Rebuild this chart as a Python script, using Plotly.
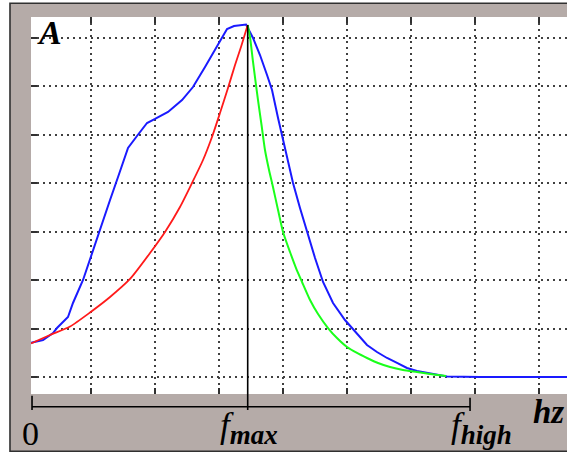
import plotly.graph_objects as go

# ---------------- data (grid units) ----------------
blue_x = [0.067, 0.255, 0.411, 0.473, 0.645, 0.723, 0.880, 1.020, 1.145, 1.302,
          1.427, 1.583, 1.723, 1.880, 2.005, 2.208, 2.427, 2.598, 2.786, 2.911,
          3.052, 3.130, 3.239, 3.427, 3.536, 3.645, 3.755, 3.833, 3.927, 3.989,
          4.067, 4.161, 4.270, 4.380, 4.505, 4.630, 4.786, 4.973, 5.145, 5.317,
          5.473, 5.630, 5.786, 5.942, 6.098, 6.255, 6.411, 6.567, 7.083, 8.450]
blue_y = [1.707, 1.763, 1.907, 2.010, 2.237, 2.526, 3.000, 3.557, 4.031, 4.649,
          5.124, 5.722, 5.969, 6.237, 6.320, 6.464, 6.711, 6.979, 7.392, 7.680,
          8.010, 8.175, 8.237, 8.268, 7.990, 7.639, 7.227, 6.918, 6.340, 5.990,
          5.577, 5.000, 4.485, 3.990, 3.454, 2.959, 2.526, 2.175, 1.907, 1.660,
          1.515, 1.392, 1.289, 1.186, 1.124, 1.082, 1.041, 1.010, 1.000, 1.000]

red_x = [0.067, 0.364, 0.677, 0.989, 1.302, 1.614, 1.927, 2.161, 2.395, 2.583,
         2.755, 2.895, 3.020, 3.145, 3.255, 3.348, 3.453]
red_y = [1.691, 1.866, 2.041, 2.330, 2.649, 3.021, 3.557, 3.990, 4.505, 5.000,
         5.474, 5.948, 6.443, 6.959, 7.433, 7.804, 8.258]

green_x = [3.453, 3.489, 3.536, 3.614, 3.669, 3.723, 3.786, 3.848, 3.927, 4.005,
           4.114, 4.208, 4.302, 4.427, 4.552, 4.708, 4.848, 5.005, 5.161, 5.317,
           5.489, 5.677, 5.880, 6.098, 6.302, 6.552]
green_y = [8.258, 8.010, 7.495, 6.711, 6.196, 5.680, 5.268, 4.918, 4.443, 3.990,
           3.577, 3.247, 2.959, 2.588, 2.299, 2.010, 1.804, 1.619, 1.495, 1.392,
           1.289, 1.206, 1.144, 1.103, 1.062, 1.021]

F_ZERO = 0.083
F_MAX = 3.453
F_HIGH = 6.927
grid_x = [1, 2, 3, 4, 5, 6, 7, 8]
grid_y = [1, 2, 3, 4, 5, 6, 7, 8]
X_RANGE = [0.067, 8.442]
Y_RANGE = [0.6495, 8.4227]

# ---------------- styling ----------------
GRAY = "#b5aba8"
DARK = "#303030"
SERIF = "Liberation Serif"

fig = go.Figure()
fig.add_trace(go.Scatter(x=blue_x, y=blue_y, mode="lines",
                         line=dict(color="#1a1aff", width=2), showlegend=False))
fig.add_trace(go.Scatter(x=red_x, y=red_y, mode="lines",
                         line=dict(color="#ff1a1a", width=1.8, shape="spline", smoothing=0.6),
                         showlegend=False))
fig.add_trace(go.Scatter(x=green_x, y=green_y, mode="lines",
                         line=dict(color="#1aff1a", width=2, shape="spline", smoothing=0.6),
                         showlegend=False))

peak_paper = (max(red_y) - Y_RANGE[0]) / (Y_RANGE[1] - Y_RANGE[0])

shapes = [
    # outer gray frame
    dict(type="rect", xref="paper", yref="paper", x0=-0.0392, x1=1.03, y0=-0.152, y1=1.0363,
         fillcolor=GRAY, line=dict(color=DARK, width=1.6), layer="below"),
    # white plotting area
    dict(type="rect", xref="paper", yref="paper", x0=0, x1=1, y0=0, y1=1,
         fillcolor="white", line=dict(width=0), layer="below"),
    # f_max vertical line
    dict(type="line", xref="x", yref="paper", x0=F_MAX, x1=F_MAX, y0=-0.0424, y1=peak_paper,
         line=dict(color="black", width=1.6), layer="above"),
    # frequency axis line
    dict(type="line", xref="x", yref="paper", x0=F_ZERO, x1=F_HIGH, y0=-0.0337, y1=-0.0337,
         line=dict(color="black", width=1.6), layer="above"),
    dict(type="line", xref="x", yref="paper", x0=F_ZERO, x1=F_ZERO, y0=-0.0045, y1=-0.0424,
         line=dict(color="black", width=1.6), layer="above"),
    dict(type="line", xref="x", yref="paper", x0=F_HIGH, x1=F_HIGH, y0=-0.0098, y1=-0.045,
         line=dict(color="black", width=1.6), layer="above"),
]

annotations = [
    dict(text="<b><i>A</i></b>", xref="paper", yref="paper", x=0.007, y=0.958,
         xanchor="left", yanchor="middle", showarrow=False,
         font=dict(family=SERIF, size=34, color="black")),
    dict(text="0", xref="x", yref="paper", x=F_ZERO, y=-0.104, xshift=-1.5,
         xanchor="center", yanchor="middle", showarrow=False,
         font=dict(family=SERIF, size=34, color="black")),
    dict(text="<i>f</i><sub><b><i><span style='font-size:27px'>max</span></i></b></sub>",
         xref="x", yref="paper", x=F_MAX, y=-0.089, xshift=1,
         xanchor="center", yanchor="middle", showarrow=False,
         font=dict(family=SERIF, size=35, color="black")),
    dict(text="<i>f</i><sub><b><i><span style='font-size:27px'>high</span></i></b></sub>",
         xref="x", yref="paper", x=F_HIGH, y=-0.089, xshift=11,
         xanchor="center", yanchor="middle", showarrow=False,
         font=dict(family=SERIF, size=35, color="black")),
    dict(text="<b><i>hz</i></b>", xref="paper", yref="paper", x=0.9646, y=-0.0477,
         xanchor="center", yanchor="middle", showarrow=False,
         font=dict(family=SERIF, size=33, color="black")),
]

fig.update_layout(
    width=567, height=453,
    margin=dict(l=31, r=0, t=17, b=59),
    paper_bgcolor="white", plot_bgcolor="white",
    shapes=shapes, annotations=annotations,
    showlegend=False,
)
fig.update_xaxes(range=X_RANGE, tickmode="array", tickvals=grid_x, showticklabels=False,
                 showgrid=True, gridcolor="#404040", griddash="2px,4px", gridwidth=1.6,
                 ticks="inside", ticklen=6, tickwidth=1.6, tickcolor=DARK,
                 mirror="ticks", showline=False, zeroline=False)
fig.update_yaxes(range=Y_RANGE, tickmode="array", tickvals=grid_y, showticklabels=False,
                 showgrid=True, gridcolor="#404040", griddash="2px,4px", gridwidth=1.6,
                 ticks="inside", ticklen=6, tickwidth=1.6, tickcolor=DARK,
                 showline=False, zeroline=False)

fig.write_html("out.html")
